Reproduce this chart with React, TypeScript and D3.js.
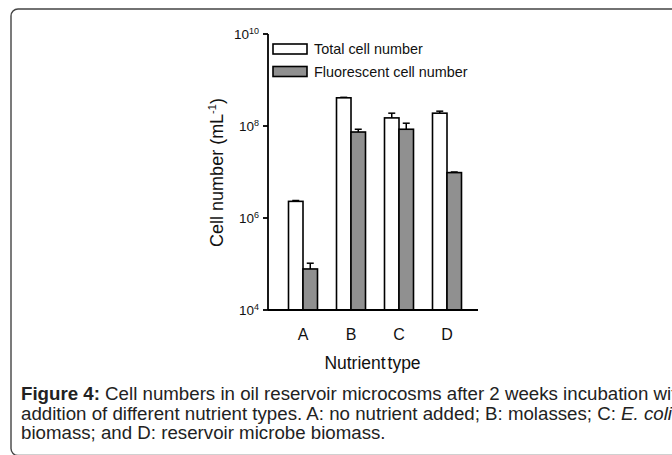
import React from 'react';
import * as d3 from 'd3';

// data
const categories = ['A', 'B', 'C', 'D'];
const seriesNames = ['Total cell number', 'Fluorescent cell number'];
const totalCells = [2.3e6, 4.1e8, 1.5e8, 1.9e8];
const totalErr = [0.1e6, 0.1e8, 0.4e8, 0.2e8];
const fluorCells = [7.8e4, 7.4e7, 8.5e7, 9.7e6];
const fluorErr = [2.6e4, 1.1e7, 3.0e7, 0.3e6];
const yTickExps = [4, 6, 8, 10];
const fills = ['#ffffff', '#909090'];

const font = "'Liberation Sans', Arial, Helvetica, sans-serif";

export default function App() {
  const width = 672;
  const height = 455;

  const x = d3.scaleBand().domain(categories).range([279, 471]).padding(0);
  const sub = d3.scaleBand().domain(seriesNames).range([-14.5, 14.5]).padding(0);
  const y = d3.scaleLog().domain([1e4, 1e10]).range([310, 34]);
  const xAxisEnd = 478;
  const yAxisX = 268;

  const rows = seriesNames.map((s, si) => ({
    name: s,
    fill: fills[si],
    values: si === 0 ? totalCells : fluorCells,
    errs: si === 0 ? totalErr : fluorErr,
  }));

  return (
    <svg width={width} height={height} style={{ position: 'absolute', left: 0, top: 0, background: '#fff' }}
      fontFamily={font}>
      {/* figure frame, its bottom runs off the picture */}
      <rect x={11} y={9} width={720} height={446.5} rx={7} fill="none" stroke="#444" strokeWidth={1.4} />

      {/* bars */}
      {rows.map(r => (
        <g key={r.name}>
          {categories.map((c, i) => {
            const cx = (x(c) as number) + x.bandwidth() / 2;
            const bx = cx + (sub(r.name) as number);
            const top = y(r.values[i]);
            const errTop = y(r.values[i] + r.errs[i]);
            const mid = bx + sub.bandwidth() / 2;
            return (
              <g key={c}>
                <line x1={mid} x2={mid} y1={top} y2={errTop} stroke="#000" strokeWidth={1.5} />
                <line x1={mid - 3.5} x2={mid + 3.5} y1={errTop} y2={errTop} stroke="#000" strokeWidth={1.5} />
                <rect x={bx} y={top} width={sub.bandwidth()} height={y(1e4) - top}
                  fill={r.fill} stroke="#000" strokeWidth={1.6} />
              </g>
            );
          })}
        </g>
      ))}

      {/* axes */}
      <line x1={yAxisX} x2={xAxisEnd} y1={y(1e4)} y2={y(1e4)} stroke="#000" strokeWidth={1.8} />
      <line x1={yAxisX} x2={yAxisX} y1={y(1e10)} y2={y(1e4)} stroke="#000" strokeWidth={1.8} />
      {yTickExps.map(e => (
        <g key={e} transform={`translate(0,${y(Math.pow(10, e))})`}>
          <line x1={yAxisX - 5} x2={yAxisX} stroke="#000" strokeWidth={1.8} />
          <text x={259} y={5} textAnchor="end" fontSize={13.5} fill="#111">
            10<tspan dy={-5} fontSize={9}>{e}</tspan>
          </text>
        </g>
      ))}
      {categories.map(c => (
        <text key={c} x={(x(c) as number) + x.bandwidth() / 2} y={340} textAnchor="middle" fontSize={16} fill="#111">{c}</text>
      ))}

      <text x={372.5} y={369} textAnchor="middle" fontSize={17.5} wordSpacing={-3} fill="#111">Nutrient type</text>
      <text transform="translate(223,172.5) rotate(-90)" textAnchor="middle" fontSize={18} fill="#111">
        Cell number (mL<tspan dy={-7} fontSize={11}>-1</tspan><tspan dy={7}>)</tspan>
      </text>

      {/* legend */}
      {rows.map((r, i) => (
        <g key={r.name} transform={`translate(273,${44 + i * 22.5})`}>
          <rect width={34} height={10} fill={r.fill} stroke="#000" strokeWidth={1.6} />
          <text x={41} y={10} fontSize={14.4} fill="#111">{r.name}</text>
        </g>
      ))}

      {/* caption, cut at the right edge as in the source */}
      <g fontSize={18.7} fill="#222">
        <text x={21} y={400}>
          <tspan fontWeight="bold">Figure 4:</tspan> Cell numbers in oil reservoir microcosms after 2 weeks incubation with
        </text>
        <text x={21} y={420}>
          addition of different nutrient types. A: no nutrient added; B: molasses; C: <tspan fontStyle="italic">E. coli</tspan>
        </text>
        <text x={21} y={439}>biomass; and D: reservoir microbe biomass.</text>
      </g>
    </svg>
  );
}
